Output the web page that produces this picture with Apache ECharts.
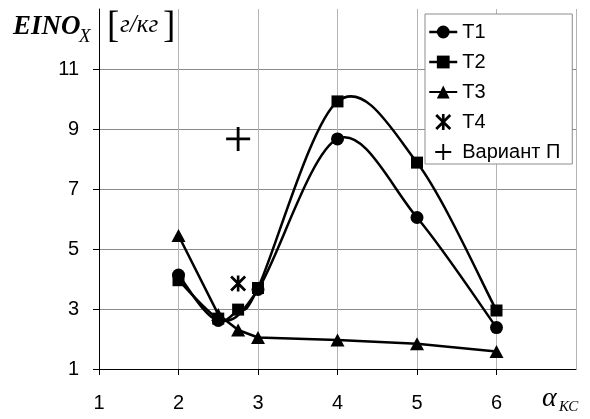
<!DOCTYPE html>
<html>
<head>
<meta charset="utf-8">
<script src="https://cdn.jsdelivr.net/npm/echarts@6/dist/echarts.min.js"></script>
<style>
  html, body { margin: 0; padding: 0; background: #fff; }
  #chart { width: 590px; height: 419px; }
</style>
</head>
<body>
<div id="chart"></div>
<script>
// значения
const xT1 = [2, 2.5, 3, 4, 5, 6];
const yT1 = [4.13, 2.62, 3.65, 8.67, 6.05, 2.38];
const xT2 = [2, 2.5, 2.75, 3, 4, 5, 6];
const yT2 = [3.96, 2.68, 2.98, 3.7, 9.92, 7.88, 2.95];
const xT3 = [2, 2.5, 2.75, 3, 4, 5, 6];
const yT3 = [5.45, 2.82, 2.3, 2.05, 1.97, 1.84, 1.58];
const xT4 = [2.75];
const yT4 = [3.85];
const xP = [2.75];
const yP = [8.67];
const xTicks = [1, 2, 3, 4, 5, 6];
const yTicks = [1, 3, 5, 7, 9, 11];
const names = ['T1', 'T2', 'T3', 'T4', 'Вариант П'];

const zip = (xs, ys) => xs.map((x, i) => [x, ys[i]]);

const plusPath = 'path://M-1.4,-12H1.4V-1.4H12V1.4H1.4V12H-1.4V1.4H-12V-1.4H-1.4Z';
const starPath = 'path://M-1.5,-9L1.5,-9L1.5,9L-1.5,9Z' +
  'M-6.9,-9.1L9.1,6.9L6.9,9.1L-9.1,-6.9Z' +
  'M9.1,-6.9L-6.9,9.1L-9.1,6.9L6.9,-9.1Z';

const chart = echarts.init(document.getElementById('chart'));

const serif = 'Liberation Serif';
const sans = 'Liberation Sans';

// маркеры (линия скрыта, сглаженная кривая рисуется отдельно)
const lineSeries = (name, data, symbol, size, lineWidth) => ({
  name: name,
  type: 'line',
  data: data,
  symbol: symbol,
  symbolSize: size,
  showAllSymbol: true,
  lineStyle: { color: '#000', width: lineWidth },
  itemStyle: { color: '#000' },
  z: 3
});

// сглаживание как в Excel (Катмулл-Ром, 1/6)
const curveSeries = (name, xs, ys) => ({
  name: name,
  type: 'custom',
  data: zip(xs, ys),
  encode: { x: 0, y: 1 },
  silent: true,
  z: 2,
  renderItem: function (params, api) {
    if (params.dataIndex !== 0) return null;
    const p = xs.map((x, i) => api.coord([x, ys[i]]));
    let d = 'M' + p[0][0] + ',' + p[0][1];
    for (let i = 0; i < p.length - 1; i++) {
      const a = p[i - 1] || p[i];
      const b = p[i];
      const c = p[i + 1];
      const e = p[i + 2] || p[i + 1];
      const c1 = [b[0] + (c[0] - a[0]) / 6, b[1] + (c[1] - a[1]) / 6];
      const c2 = [c[0] - (e[0] - b[0]) / 6, c[1] - (e[1] - b[1]) / 6];
      d += 'C' + c1.join(',') + ' ' + c2.join(',') + ' ' + c.join(',');
    }
    return {
      type: 'path',
      shape: { pathData: d },
      style: { stroke: '#000', lineWidth: 2.5, fill: 'none' }
    };
  }
});

const legendLine = { color: '#000', width: 2.5, opacity: 1 };

chart.setOption({
  animation: false,
  backgroundColor: '#fff',
  grid: { left: 99, right: 14, top: 9, bottom: 50, containLabel: false },
  xAxis: {
    type: 'value',
    min: xTicks[0],
    max: 7,
    interval: 1,
    axisLine: { show: true, onZero: false, lineStyle: { color: '#000', width: 1 } },
    axisTick: { show: true, length: 6, lineStyle: { color: '#000' } },
    axisLabel: {
      show: true,
      margin: 24,
      showMaxLabel: false,
      color: '#000',
      fontFamily: sans,
      fontSize: 20
    },
    splitLine: { show: true, lineStyle: { color: '#b4b4b4', width: 1 } }
  },
  yAxis: {
    type: 'value',
    min: yTicks[0],
    max: 13,
    interval: 2,
    axisLine: { show: true, onZero: false, lineStyle: { color: '#000', width: 1 } },
    axisTick: { show: true, length: 6, lineStyle: { color: '#000' } },
    axisLabel: {
      show: true,
      margin: 20,
      showMaxLabel: false,
      color: '#000',
      fontFamily: sans,
      fontSize: 20
    },
    splitLine: { show: true, showMaxLine: false, lineStyle: { color: '#8a8a8a', width: 1 } }
  },
  legend: {
    data: [
      { name: names[0], lineStyle: legendLine },
      { name: names[1], lineStyle: legendLine },
      { name: names[2] },
      { name: names[3] },
      { name: names[4] }
    ],
    orient: 'vertical',
    left: 425,
    top: 14,
    padding: [8, 12, 2, 3],
    itemWidth: 28,
    itemHeight: 16,
    itemGap: 10,
    selectedMode: false,
    backgroundColor: '#fff',
    borderColor: '#8c8c8c',
    borderWidth: 1,
    textStyle: { color: '#000', fontFamily: sans, fontSize: 20, lineHeight: 20 }
  },
  series: [
    lineSeries(names[0], zip(xT1, yT1), 'circle', 13, 0),
    lineSeries(names[1], zip(xT2, yT2), 'rect', 12, 0),
    lineSeries(names[2], zip(xT3, yT3), 'triangle', [14, 13], 2.5),
    curveSeries('T1 кривая', xT1, yT1),
    curveSeries('T2 кривая', xT2, yT2),
    {
      name: names[3],
      type: 'scatter',
      data: zip(xT4, yT4),
      symbol: starPath,
      symbolSize: 16,
      itemStyle: { color: '#000', opacity: 1 },
      z: 4
    },
    {
      name: names[4],
      type: 'scatter',
      data: zip(xP, yP),
      symbol: plusPath,
      symbolSize: 24,
      itemStyle: { color: '#000', opacity: 1 },
      z: 4
    }
  ],
  graphic: [
    { type: 'text', left: 13, top: 14, style: { text: 'EINO', font: 'italic bold 27px "' + serif + '"', fill: '#000' } },
    { type: 'text', left: 79, top: 27, style: { text: 'X', font: 'italic 19px "' + serif + '"', fill: '#000' } },
    { type: 'text', left: 107, top: 9, style: { text: '[', font: '37px "' + serif + '"', fill: '#000' } },
    { type: 'text', left: 120, top: 13, style: { text: 'г/кг', font: 'italic 25px "' + serif + '"', fill: '#000' } },
    { type: 'text', left: 163, top: 9, style: { text: ']', font: '37px "' + serif + '"', fill: '#000' } },
    { type: 'text', left: 542, top: 385, style: { text: 'α', font: 'italic 28px "' + serif + '"', fill: '#000' } },
    { type: 'text', left: 559, top: 400, style: { text: 'КС', font: 'italic 15px "' + serif + '"', fill: '#000' } }
  ]
});
</script>
</body>
</html>
